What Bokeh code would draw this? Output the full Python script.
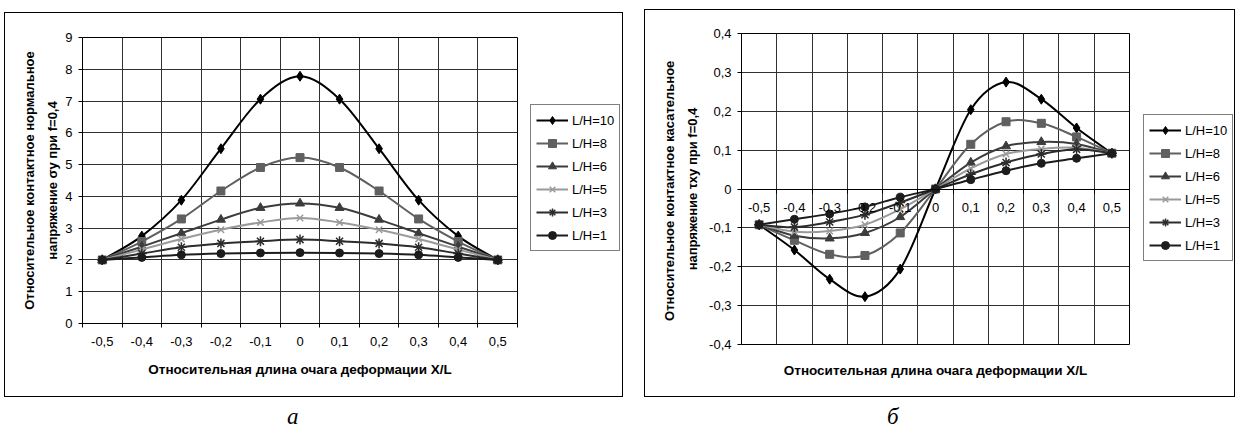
from bokeh.plotting import figure
from bokeh.models import FixedTicker, LinearAxis, Range1d, Legend, LegendItem, Div
from bokeh.layouts import row, column
from bokeh.embed import file_html
from bokeh.resources import INLINE

# ---------------- data ----------------
x_values = [-0.5, -0.4, -0.3, -0.2, -0.1, 0.0, 0.1, 0.2, 0.3, 0.4, 0.5]
x_labels = ["-0,5", "-0,4", "-0,3", "-0,2", "-0,1", "0", "0,1", "0,2", "0,3", "0,4", "0,5"]
series_names = ["L/H=10", "L/H=8", "L/H=6", "L/H=5", "L/H=3", "L/H=1"]

# chart а: normal contact stress
sigma_ticks = [0, 1, 2, 3, 4, 5, 6, 7, 8, 9]
sigma_tick_labels = ["0", "1", "2", "3", "4", "5", "6", "7", "8", "9"]
sigma_lh10 = [2.0, 2.75, 3.88, 5.50, 7.06, 7.78, 7.06, 5.50, 3.88, 2.75, 2.0]
sigma_lh8 = [2.0, 2.58, 3.29, 4.17, 4.91, 5.22, 4.91, 4.17, 3.29, 2.58, 2.0]
sigma_lh6 = [2.0, 2.42, 2.84, 3.27, 3.64, 3.78, 3.64, 3.27, 2.84, 2.42, 2.0]
sigma_lh5 = [2.0, 2.33, 2.66, 2.95, 3.18, 3.32, 3.18, 2.95, 2.66, 2.33, 2.0]
sigma_lh3 = [2.0, 2.20, 2.40, 2.52, 2.59, 2.64, 2.59, 2.52, 2.40, 2.20, 2.0]
sigma_lh1 = [2.0, 2.08, 2.16, 2.20, 2.22, 2.23, 2.22, 2.20, 2.16, 2.08, 2.0]

# chart б: tangential contact stress
tau_ticks = [-0.4, -0.3, -0.2, -0.1, 0.0, 0.1, 0.2, 0.3, 0.4]
tau_tick_labels = ["-0,4", "-0,3", "-0,2", "-0,1", "0", "0,1", "0,2", "0,3", "0,4"]
tau_lh10 = [-0.092, -0.157, -0.232, -0.277, -0.206, 0.0, 0.204, 0.275, 0.231, 0.157, 0.092]
tau_lh8 = [-0.092, -0.132, -0.168, -0.171, -0.113, 0.0, 0.115, 0.173, 0.169, 0.134, 0.092]
tau_lh6 = [-0.092, -0.120, -0.127, -0.113, -0.072, 0.0, 0.068, 0.110, 0.121, 0.116, 0.092]
tau_lh5 = [-0.092, -0.110, -0.108, -0.092, -0.052, 0.0, 0.053, 0.090, 0.103, 0.106, 0.092]
tau_lh3 = [-0.092, -0.098, -0.085, -0.066, -0.035, 0.0, 0.038, 0.068, 0.090, 0.102, 0.092]
tau_lh1 = [-0.092, -0.078, -0.064, -0.046, -0.021, 0.0, 0.024, 0.047, 0.066, 0.079, 0.092]

x_title = "Относительная длина очага деформации X/L"
sigma_title = "Относительное контактное нормальное\nнапряжение σу при f=0,4"
tau_title = "Относительное  контактное касательное\nнапряжение τху при f=0,4"
captions = ["а", "б"]

# ---------------- styles ----------------
styles = [
    dict(color="#000000", marker="diamond", size=10, lw=2.0),
    dict(color="#606060", marker="square", size=8, lw=2.0),
    dict(color="#3c3c3c", marker="triangle", size=9, lw=2.0),
    dict(color="#9a9a9a", marker="x", size=9, lw=2.0),
    dict(color="#2c2c2c", marker="asterisk", size=10, lw=2.0),
    dict(color="#1c1c1c", marker="circle", size=8, lw=2.0),
]
FONT = "Liberation Sans"
GRID = "#303030"
BOX = {"outline": "1px solid #000", "outline-offset": "-1px", "background-color": "white"}


def smooth_segments(xs, ys):
    """Bezier control points (Catmull-Rom style, like Excel's smoothed line)."""
    n = len(xs)
    out = dict(x0=[], y0=[], x1=[], y1=[], cx0=[], cy0=[], cx1=[], cy1=[])
    for i in range(n - 1):
        a = i - 1 if i > 0 else i
        d = i + 2 if i + 2 < n else i + 1
        out["x0"].append(xs[i]); out["y0"].append(ys[i])
        out["x1"].append(xs[i + 1]); out["y1"].append(ys[i + 1])
        out["cx0"].append(xs[i] + (xs[i + 1] - xs[a]) / 6.0)
        out["cy0"].append(ys[i] + (ys[i + 1] - ys[a]) / 6.0)
        out["cx1"].append(xs[i + 1] - (xs[d] - xs[i]) / 6.0)
        out["cy1"].append(ys[i + 1] - (ys[d] - ys[i]) / 6.0)
    return out


def marker_renderer(p, xs, ys, st):
    mk = st["marker"]
    if mk in ("x", "asterisk"):
        return p.scatter(xs, ys, marker=mk, size=st["size"],
                         line_color=st["color"], line_width=1.5, fill_color=None)
    return p.scatter(xs, ys, marker=mk, size=st["size"],
                     line_color=st["color"], fill_color=st["color"])


def make_chart(series, y_ticks, y_labels, y_title, frame_w, frame_h,
               b_left, b_right, b_top, b_bottom, axis_at_zero,
               y_title_standoff, x_label_standoff, x_title_standoff):
    half = (x_values[1] - x_values[0]) / 2.0
    bounds = [v - half for v in x_values] + [x_values[-1] + half]
    p = figure(frame_width=frame_w, frame_height=frame_h,
               x_range=Range1d(bounds[0], bounds[-1]),
               y_range=Range1d(y_ticks[0], y_ticks[-1]),
               output_backend="svg", toolbar_location=None,
               min_border_left=b_left, min_border_right=b_right,
               min_border_top=b_top, min_border_bottom=b_bottom)
    p.outline_line_color = "black"
    p.outline_line_width = 1
    p.background_fill_color = "white"
    p.border_fill_color = None

    # grid
    p.xgrid.ticker = FixedTicker(ticks=bounds)
    p.ygrid.ticker = FixedTicker(ticks=y_ticks)
    for g in (p.xgrid, p.ygrid):
        g.grid_line_color = GRID
        g.grid_line_width = 1

    # x axis (category labels at centres, tick marks at category borders)
    xa = p.xaxis[0]
    xa.ticker = FixedTicker(ticks=x_values, minor_ticks=bounds)
    xa.major_label_overrides = dict(zip(x_values, x_labels))
    xa.major_tick_line_color = None
    xa.major_tick_out = 0
    xa.major_tick_in = 0
    xa.minor_tick_out = 4
    xa.minor_tick_in = 0
    xa.minor_tick_line_color = "black"
    xa.axis_line_color = "black"
    xa.major_label_standoff = x_label_standoff
    xa.major_label_text_font = FONT
    xa.major_label_text_font_size = "13px"
    xa.major_label_text_color = "black"
    if axis_at_zero:
        xa.fixed_location = 0
        ta = LinearAxis(ticker=FixedTicker(ticks=[]), axis_line_color=None,
                        major_tick_line_color=None, minor_tick_line_color=None,
                        major_tick_out=0, major_label_text_font_size="0px")
        title_axis = ta
        p.add_layout(ta, "below")
    else:
        title_axis = xa
    title_axis.axis_label = x_title
    title_axis.axis_label_standoff = x_title_standoff
    title_axis.axis_label_text_font = FONT
    title_axis.axis_label_text_font_style = "bold"
    title_axis.axis_label_text_font_size = "13.5px"
    title_axis.axis_label_text_color = "black"

    # y axis
    ya = p.yaxis[0]
    ya.ticker = FixedTicker(ticks=y_ticks)
    ya.major_label_overrides = dict(zip(y_ticks, y_labels))
    ya.major_tick_out = 4
    ya.major_tick_in = 0
    ya.minor_tick_line_color = None
    ya.axis_line_color = "black"
    ya.major_tick_line_color = "black"
    ya.major_label_standoff = 6
    ya.major_label_text_font = FONT
    ya.major_label_text_font_size = "13px"
    ya.major_label_text_color = "black"
    ya.axis_label = y_title
    ya.axis_label_standoff = y_title_standoff
    ya.axis_label_text_font = FONT
    ya.axis_label_text_font_style = "bold"
    ya.axis_label_text_font_size = "13px"
    ya.axis_label_text_color = "black"
    ya.axis_label_text_line_height = 1.55

    for ys, st in zip(series, styles):
        seg = smooth_segments(x_values, ys)
        p.bezier(x0=seg["x0"], y0=seg["y0"], x1=seg["x1"], y1=seg["y1"],
                 cx0=seg["cx0"], cy0=seg["cy0"], cx1=seg["cx1"], cy1=seg["cy1"],
                 line_color=st["color"], line_width=st["lw"])
        marker_renderer(p, x_values, ys, st)
    return p


def make_legend(series, width, height, loc):
    """Legend panel. Its renderers carry the series styles; the panel's ranges
    lie outside the data, so only the legend itself is visible."""
    lf = figure(width=width, height=height, x_range=Range1d(10, 11), y_range=Range1d(10, 11),
                output_backend="svg", toolbar_location=None,
                x_axis_location=None, y_axis_location=None,
                min_border_left=0, min_border_right=0, min_border_top=0, min_border_bottom=0)
    lf.outline_line_color = None
    lf.border_fill_color = None
    lf.background_fill_color = None
    for g in lf.grid:
        g.visible = False
    items = []
    for name, ys, st in zip(series_names, series, styles):
        lr = lf.line(x_values, ys, line_color=st["color"], line_width=st["lw"])
        sr = marker_renderer(lf, x_values, ys, st)
        items.append(LegendItem(label=name, renderers=[lr, sr]))
    legend = Legend(items=items, location=loc, margin=0,
                    border_line_color="black", border_line_width=1,
                    background_fill_color="white", background_fill_alpha=1.0,
                    label_text_font=FONT, label_text_font_size="13px",
                    label_text_color="black",
                    glyph_width=32, glyph_height=20, label_height=20,
                    spacing=3, padding=5, label_standoff=4)
    lf.add_layout(legend)
    return lf


sigma_series = [sigma_lh10, sigma_lh8, sigma_lh6, sigma_lh5, sigma_lh3, sigma_lh1]
tau_series = [tau_lh10, tau_lh8, tau_lh6, tau_lh5, tau_lh3, tau_lh1]

# left box: 619 x 385 at (4,12), plot area 435 x 286 at (82,37)
p1 = make_chart(sigma_series, sigma_ticks, sigma_tick_labels, sigma_title,
                435, 286, 78, 13, 25, 74, False, 2, 9, 13)
l1 = make_legend(sigma_series, 93, 385, (0, 72))
# right box: 591 x 388 at (644,9), plot area 388 x 311 at (741,33)
p2 = make_chart(tau_series, tau_ticks, tau_tick_labels, tau_title,
                388, 311, 97, 14, 24, 53, True, 6, 10, 18)
l2 = make_legend(tau_series, 92, 388, (0, 83))

box1 = row(p1, l1, margin=(12, 0, 0, 4), styles=BOX)
box2 = row(p2, l2, margin=(9, 0, 0, 0), styles=BOX)

cap_style = {"font-family": "Liberation Serif", "font-style": "italic",
             "font-size": "23px", "line-height": "23px", "color": "black"}
cap1 = Div(text=captions[0], width=30, height=23, margin=(8, 0, 0, 287), styles=cap_style)
cap2 = Div(text=captions[1], width=30, height=23, margin=(8, 0, 0, 243), styles=cap_style)

layout = row(column(box1, cap1), column(box2, cap2), spacing=21)

open("out.html", "w").write(file_html(layout, INLINE))
